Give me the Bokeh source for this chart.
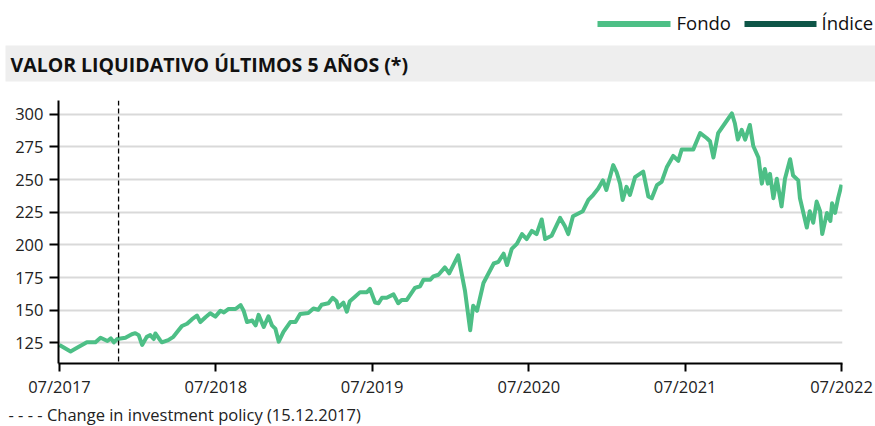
import pandas as pd
from bokeh.plotting import figure
from bokeh.layouts import column
from bokeh.models import Range1d, FixedTicker, DatetimeTickFormatter, Span, ColumnDataSource
from bokeh.core.properties import value
from bokeh.embed import file_html
from bokeh.resources import INLINE

# ---------------- data ----------------
dates = [
    "2017-07-01", "2017-07-27", "2017-08-07", "2017-09-03", "2017-09-23", "2017-10-05",
    "2017-10-21", "2017-10-29", "2017-11-05", "2017-11-13", "2017-12-02", "2017-12-17",
    "2017-12-25", "2018-01-02", "2018-01-10", "2018-01-21", "2018-01-29", "2018-02-06",
    "2018-02-10", "2018-02-21", "2018-02-25", "2018-03-12", "2018-03-24", "2018-04-05",
    "2018-04-13", "2018-04-25", "2018-05-06", "2018-05-18", "2018-05-26", "2018-06-07",
    "2018-06-18", "2018-06-30", "2018-07-12", "2018-07-20", "2018-07-31", "2018-08-16",
    "2018-08-28", "2018-09-04", "2018-09-12", "2018-09-24", "2018-10-02", "2018-10-09",
    "2018-10-21", "2018-11-01", "2018-11-09", "2018-11-17", "2018-11-25", "2018-12-06",
    "2018-12-22", "2019-01-03", "2019-01-14", "2019-02-02", "2019-02-14", "2019-02-25",
    "2019-03-05", "2019-03-21", "2019-03-31", "2019-04-09", "2019-04-13", "2019-04-25",
    "2019-05-03", "2019-05-10", "2019-05-22", "2019-06-03", "2019-06-19", "2019-06-26",
    "2019-07-08", "2019-07-16", "2019-07-24", "2019-08-04", "2019-08-20", "2019-08-31",
    "2019-09-08", "2019-09-20", "2019-10-09", "2019-10-21", "2019-10-29", "2019-11-14",
    "2019-11-21", "2019-12-03", "2019-12-18", "2019-12-28", "2020-01-18", "2020-01-26",
    "2020-02-03", "2020-02-15", "2020-02-22", "2020-03-02", "2020-03-17", "2020-03-29",
    "2020-04-10", "2020-04-21", "2020-05-03", "2020-05-11", "2020-05-22", "2020-06-03",
    "2020-06-15", "2020-06-26", "2020-07-08", "2020-07-19", "2020-07-31", "2020-08-08",
    "2020-08-23", "2020-09-12", "2020-09-23", "2020-10-01", "2020-10-12", "2020-11-04",
    "2020-11-17", "2020-11-28", "2020-12-10", "2020-12-21", "2020-12-29", "2021-01-14",
    "2021-01-22", "2021-01-30", "2021-02-05", "2021-02-14", "2021-02-22", "2021-03-06",
    "2021-03-25", "2021-04-06", "2021-04-14", "2021-04-26", "2021-05-07", "2021-05-19",
    "2021-06-03", "2021-06-15", "2021-06-23", "2021-07-08", "2021-07-20", "2021-08-05",
    "2021-08-20", "2021-08-28", "2021-09-05", "2021-09-16", "2021-10-02", "2021-10-18",
    "2021-10-25", "2021-11-01", "2021-11-10", "2021-11-18", "2021-11-29", "2021-12-07",
    "2021-12-19", "2021-12-27", "2022-01-03", "2022-01-10", "2022-01-15", "2022-01-23",
    "2022-01-31", "2022-02-11", "2022-02-19", "2022-03-03", "2022-03-10", "2022-03-22",
    "2022-03-26", "2022-04-11", "2022-04-18", "2022-04-26", "2022-05-04", "2022-05-12",
    "2022-05-17", "2022-05-28", "2022-06-05", "2022-06-09", "2022-06-16", "2022-06-23",
    "2022-07-01",
]
fondo = [
    123.5, 118.5, 120.5, 125.5, 125.5, 129.0,
    126.5, 128.5, 125.5, 128.0, 129.0, 131.7,
    132.5, 131.0, 123.5, 129.7, 131.0, 128.0,
    132.3, 127.2, 125.5, 127.2, 129.7, 134.7,
    138.0, 139.7, 143.0, 146.0, 141.0, 144.7,
    147.7, 145.2, 149.7, 148.4, 151.0, 151.0,
    154.0, 149.7, 141.0, 142.2, 138.5, 146.5,
    137.2, 145.4, 138.5, 136.0, 126.0, 133.5,
    141.0, 141.0, 147.2, 148.0, 151.4, 150.4,
    154.2, 155.4, 159.6, 157.0, 152.1, 155.9,
    148.9, 157.0, 160.4, 163.9, 163.9, 166.4,
    156.0, 155.4, 159.6, 159.6, 162.2, 155.4,
    157.9, 157.9, 167.1, 168.4, 173.4, 173.4,
    175.9, 177.2, 182.8, 178.3, 192.0, 178.3,
    164.6, 134.7, 153.4, 149.7, 170.9, 178.3,
    185.8, 187.1, 193.3, 184.6, 197.0, 200.8,
    208.3, 204.5, 210.8, 208.3, 219.5, 204.5,
    207.0, 220.7, 214.5, 208.3, 222.0, 225.8,
    234.4, 238.2, 243.2, 249.4, 242.0, 261.1,
    255.6, 246.9, 234.4, 244.4, 238.2, 251.9,
    256.1, 237.0, 235.7, 245.7, 248.2, 259.4,
    268.1, 264.4, 273.1, 273.1, 273.1, 285.6,
    281.8, 279.3, 266.9, 285.6, 293.1, 300.6,
    293.1, 280.6, 288.0, 280.6, 291.8, 275.7,
    266.9, 246.9, 258.1, 246.9, 254.4, 235.7,
    250.6, 229.5, 250.6, 265.6, 253.1, 249.4,
    235.7, 213.3, 225.8, 217.0, 233.2, 225.8,
    208.3, 224.5, 218.3, 231.9, 224.5, 235.7,
    246.1,
]
y_ticks = [125, 150, 175, 200, 225, 250, 275, 300]
x_tick_dates = ["2017-07-01", "2018-07-01", "2019-07-01", "2020-07-01", "2021-07-01", "2022-07-01"]
policy_marker_date = "2017-11-16"   # where the dashed marker is drawn in the picture
title_text = "VALOR LIQUIDATIVO ÚLTIMOS 5 AÑOS (*)"
legend_labels = ["Fondo", "Índice"]
footnote = "- - - - Change in investment policy (15.12.2017)"

FONDO_C = "#4dbf86"
INDICE_C = "#0e5547"
FONT = "Open Sans"
W = 875

def ms(d):
    return pd.Timestamp(d).value / 1e6

def blank(height):
    fig = figure(width=W, height=height, x_range=Range1d(0, W), y_range=Range1d(height, 0),
                 output_backend="svg", toolbar_location=None, min_border=0, frame_align=False)
    fig.axis.visible = False
    fig.grid.visible = False
    fig.outline_line_color = None
    return fig

# ---------------- header (legend + title band) ----------------
h = blank(88)
h.quad(left=[5], right=[W], top=[45], bottom=[81], color="#eeeeee", line_color=None)
h.text(x=[10], y=[63.5], text=[title_text], text_font=value(FONT), text_font_style="bold",
       text_font_size="19.5px", text_baseline="middle", text_color="#111111")
h.segment(x0=[597], x1=[670], y0=[23.5], y1=[23.5], line_width=6, color=FONDO_C)
h.segment(x0=[744], x1=[816], y0=[23.5], y1=[23.5], line_width=6, color=INDICE_C)
h.text(x=[676, 821], y=[22, 22], text=legend_labels, text_font=value(FONT),
       text_font_size="18.5px", text_baseline="middle", text_color="#111111")

# ---------------- main chart ----------------
src = ColumnDataSource(dict(date=pd.to_datetime(dates), fondo=fondo))
p = figure(width=W, height=312, x_axis_type="datetime",
           x_range=Range1d(ms("2017-06-28 18:00"), ms("2022-07-03 08:00")),
           y_range=Range1d(109.3, 310.5),
           output_backend="svg", toolbar_location=None, frame_align=False,
           min_border_left=58, min_border_right=33, min_border_top=12, min_border_bottom=31)
p.outline_line_color = None
p.xgrid.visible = False
p.ygrid.grid_line_color = "#d9d9d9"
p.ygrid.grid_line_width = 2
p.yaxis.ticker = FixedTicker(ticks=y_ticks)
p.xaxis.ticker = FixedTicker(ticks=[ms(d) for d in x_tick_dates])
p.xaxis.formatter = DatetimeTickFormatter(days="%m/%Y", months="%m/%Y", years="%m/%Y")
for ax in (p.xaxis[0], p.yaxis[0]):
    ax.axis_line_color = "black"
    ax.axis_line_width = 2
    ax.major_tick_line_color = "black"
    ax.major_tick_line_width = 2
    ax.major_tick_in = 0
    ax.minor_tick_line_color = None
    ax.major_label_text_font = FONT
    ax.major_label_text_font_size = "16.5px"
    ax.major_label_text_color = "#222222"
p.yaxis.major_tick_out = 9
p.xaxis.major_tick_out = 8
p.yaxis.major_label_standoff = 6
p.xaxis.major_label_standoff = 3

p.add_layout(Span(location=ms(policy_marker_date), dimension="height", line_color="black",
                  line_width=1.3, line_dash="5 3"))
p.line("date", "fondo", source=src, line_width=4, color=FONDO_C, line_join="round")

# ---------------- footnote ----------------
f = blank(26)
f.text(x=[8], y=[13.5], text=[footnote], text_font=value(FONT), text_font_size="16.5px",
       text_baseline="middle", text_color="#222222")

layout = column(h, p, f, spacing=0)
open("out.html", "w").write(file_html(layout, INLINE))
